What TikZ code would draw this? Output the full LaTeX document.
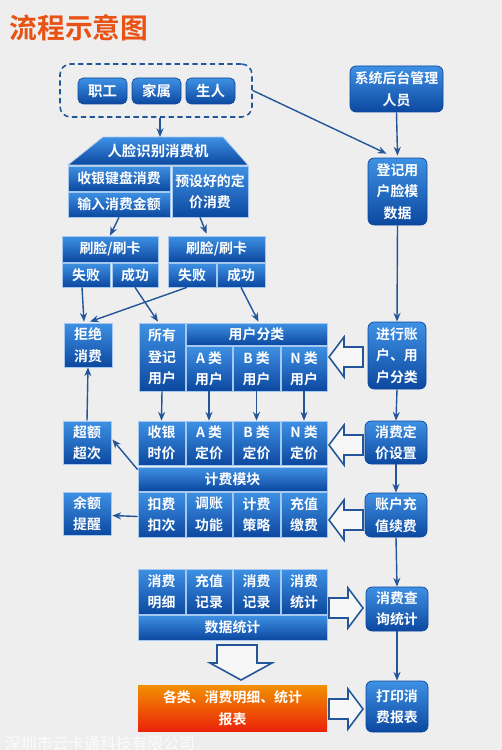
\documentclass[tikz,border=0pt]{standalone}
\usepackage{fontspec}
\setmainfont{Noto Sans CJK SC}[BoldFont={Noto Sans CJK SC Bold}]
\usetikzlibrary{arrows.meta}

\definecolor{bgcolor}{RGB}{238,238,238}
\definecolor{lineblue}{RGB}{35,85,155}
\definecolor{celltop}{RGB}{62,145,228}
\definecolor{cellbot}{RGB}{12,72,160}
\definecolor{cellborder}{RGB}{165,200,240}
\definecolor{orangetop}{RGB}{242,145,0}
\definecolor{orangebot}{RGB}{235,35,10}
\definecolor{titlecolor}{RGB}{232,82,20}

\tikzset{
  cell/.style={draw=cellborder, line width=0.4pt, top color=celltop, bottom color=cellbot,
    text=white, align=center, inner sep=0pt, font=\fontsize{7.9}{12.2}\selectfont\bfseries},
  roundbox/.style={cell, draw=cellbot, rounded corners=3.5pt},
  button/.style={cell, draw=cellbot, rounded corners=3pt, font=\fontsize{8.2}{12}\selectfont\bfseries},
  orangebox/.style={cell, draw=none, top color=orangetop, bottom color=orangebot},
  dashbox/.style={draw=lineblue, line width=0.9pt, dash pattern=on 3pt off 2pt, rounded corners=6pt},
  flow/.style={->, draw=lineblue, line width=0.8pt},
  pics/hollow/.style={code={
    \draw[draw=lineblue, fill=white!55!bgcolor, line width=0.9pt]
      (0,0) -- (-15,-20) -- (-15,-10) -- (-34,-10) -- (-34,10) -- (-15,10) -- (-15,20) -- cycle;}}
}

% box from (x1,y1) to (x2,y2), in pixels of the reference
\newcommand{\boxat}[7][cell]{%
  \node[#1, minimum width={(#4-#2)*0.02cm}, minimum height={(#5-#3)*0.02cm}]
    (#6) at ({(#2+#4)/2},{(#3+#5)/2}) {#7};}

\begin{document}
\begin{tikzpicture}[x=0.02cm, y=-0.02cm, >={Stealth[length=5pt, width=4pt]}]
  % Background and frame
  \fill[bgcolor] (0,0) rectangle (502,750);
  \useasboundingbox (0,0) rectangle (502,750);

  % Title
  \node[text=titlecolor, font=\fontsize{15.8}{16}\selectfont\bfseries] (title) at (79,28) {流程示意图};

  % --- People and face machine ---
  \boxat[dashbox]{60}{64}{252}{117}{people}{}
  \boxat[button]{78}{78}{127}{104}{staff}{职工}
  \boxat[button]{132}{78}{181}{104}{family}{家属}
  \boxat[button]{186}{78}{235}{104}{guest}{生人}

  % Machine (trapezoid top)
  \shadedraw[top color=celltop, bottom color=cellbot, draw=cellborder, line width=0.4pt]
    (103,137) -- (223,137) -- (248,165) -- (68,165) -- cycle;
  \coordinate (machinetop) at (160,137);
  \node[text=white, font=\fontsize{8.2}{12}\selectfont\bfseries] (machine) at (158,151) {人脸识别消费机};
  \boxat{68}{166}{170}{191}{cashkey}{收银键盘消费}
  \boxat{68}{192}{170}{217}{input}{输入消费金额}
  \boxat{172}{166}{248}{217}{preset}{预设好的定\\价消费}

  % Swipe face / card
  \boxat{62}{236}{158}{262}{swipeL}{刷脸/刷卡}
  \boxat{62}{263}{110}{287}{failL}{失败}
  \boxat{112}{263}{158}{287}{succL}{成功}
  \boxat{168}{236}{265}{262}{swipeR}{刷脸/刷卡}
  \boxat{168}{263}{216}{287}{failR}{失败}
  \boxat{217}{263}{265}{287}{succR}{成功}

  % --- User classes ---
  \boxat{64}{323}{112}{367}{reject}{拒绝\\消费}
  \boxat{139}{323}{185}{391}{allreg}{所有\\登记\\用户}
  \boxat{186}{323}{327}{345}{usercat}{用户分类}
  \boxat{186}{346}{232}{391}{userA}{A 类\\用户}
  \boxat{233}{346}{280}{391}{userB}{B 类\\用户}
  \boxat{281}{346}{327}{391}{userN}{N 类\\用户}

  % --- Billing module ---
  \boxat{63}{421}{111}{464}{over}{超额\\超次}
  \boxat{138}{421}{185}{465}{cashier}{收银\\时价}
  \boxat{186}{421}{232}{465}{priceA}{A 类\\定价}
  \boxat{233}{421}{280}{465}{priceB}{B 类\\定价}
  \boxat{281}{421}{327}{465}{priceN}{N 类\\定价}
  \boxat{138}{467}{327}{491}{billing}{计费模块}
  \boxat{138}{492}{185}{537}{deduct}{扣费\\扣次}
  \boxat{186}{492}{232}{537}{adjust}{调账\\功能}
  \boxat{233}{492}{280}{537}{strategy}{计费\\策略}
  \boxat{281}{492}{327}{537}{topup}{充值\\缴费}
  \boxat{63}{492}{111}{535}{remind}{余额\\提醒}

  % --- Data statistics and report ---
  \boxat{138}{569}{185}{614}{detail}{消费\\明细}
  \boxat{186}{569}{232}{614}{rechargelog}{充值\\记录}
  \boxat{233}{569}{280}{614}{spendlog}{消费\\记录}
  \boxat{281}{569}{327}{614}{spendstat}{消费\\统计}
  \boxat{138}{615}{327}{640}{datastat}{数据统计}
  \boxat[orangebox]{138}{685}{327}{731}{report}{各类、消费明细、统计\\报表}
  \draw[draw=lineblue, fill=white!55!bgcolor, line width=0.9pt]
    (217,645) -- (257,645) -- (257,663) -- (272,663) -- (241,680) -- (210,663) -- (217,663) -- cycle;

  % --- Right column ---
  \boxat[roundbox]{350}{66}{443}{112}{admin}{系统后台管理\\人员}
  \boxat[roundbox]{368}{158}{427}{225}{register}{登记用\\户脸模\\数据}
  \boxat[roundbox]{368}{322}{426}{389}{classify}{进行账\\户、用\\户分类}
  \boxat[roundbox]{365}{421}{427}{464}{price}{消费定\\价设置}
  \boxat[roundbox]{365}{493}{427}{537}{recharge}{账户充\\值续费}
  \boxat[roundbox]{366}{587}{428}{631}{query}{消费查\\询统计}
  \boxat[roundbox]{366}{681}{428}{732}{print}{打印消\\费报表}

  % Hollow arrows
  \pic[rotate=180] (toclass) at (329,357) {hollow};
  \pic[rotate=180] (toprice) at (329,445) {hollow};
  \pic[rotate=180] (totopup) at (329,520) {hollow};
  \pic (toquery) at (363,608) {hollow};
  \pic (toprint) at (363,709) {hollow};

  % Connectors
  \draw[flow] (people.south -| machinetop) -- (machinetop);
  \draw[flow] (input.south) -- (swipeL.north);
  \draw[flow] ([shift={(-10,0)}]preset.south) -- ([shift={(-10,-2)}]swipeR.north);
  \draw[flow] ([shift={(-4,0)}]failL.south) -- ([shift={(-4,-1)}]reject.north);
  \draw[flow] (succL.south) -- ([shift={(-4,-1)}]allreg.north);
  \draw[flow] ([shift={(-5,0)}]failR.south) -- ([shift={(2,-1)}]reject.north);
  \draw[flow] (succR.south) -- ([shift={(2,-1)}]usercat.north);
  \foreach \src/\dst in {allreg/cashier, userA/priceA, userB/priceB, userN/priceN}
    \draw[flow] (\src.south) -- (\dst.north);
  \draw[flow] (over.north) -- (reject.south);
  \draw[flow] ([shift={(0,3)}]billing.north west) -- ([shift={(1,-3)}]over.east);
  \draw[flow] ([shift={(0,2)}]deduct.west) -- ([shift={(1,2)}]remind.east);
  \draw[flow] (people.east) -- ([shift={(-11,-4)}]register.north);
  \draw[flow] (admin.south) -- ([shift={(0,-2)}]register.north);
  \foreach \src/\dst in {register/classify, classify/price, price/recharge, recharge/query, query/print}
    \draw[flow] (\src.south) -- (\dst.north);

  % Watermark
  \node[text=white, opacity=0.8, font=\fontsize{9}{9}\selectfont] (mark) at (100,743) {深圳市云卡通科技有限公司};
\end{tikzpicture}
\end{document}
